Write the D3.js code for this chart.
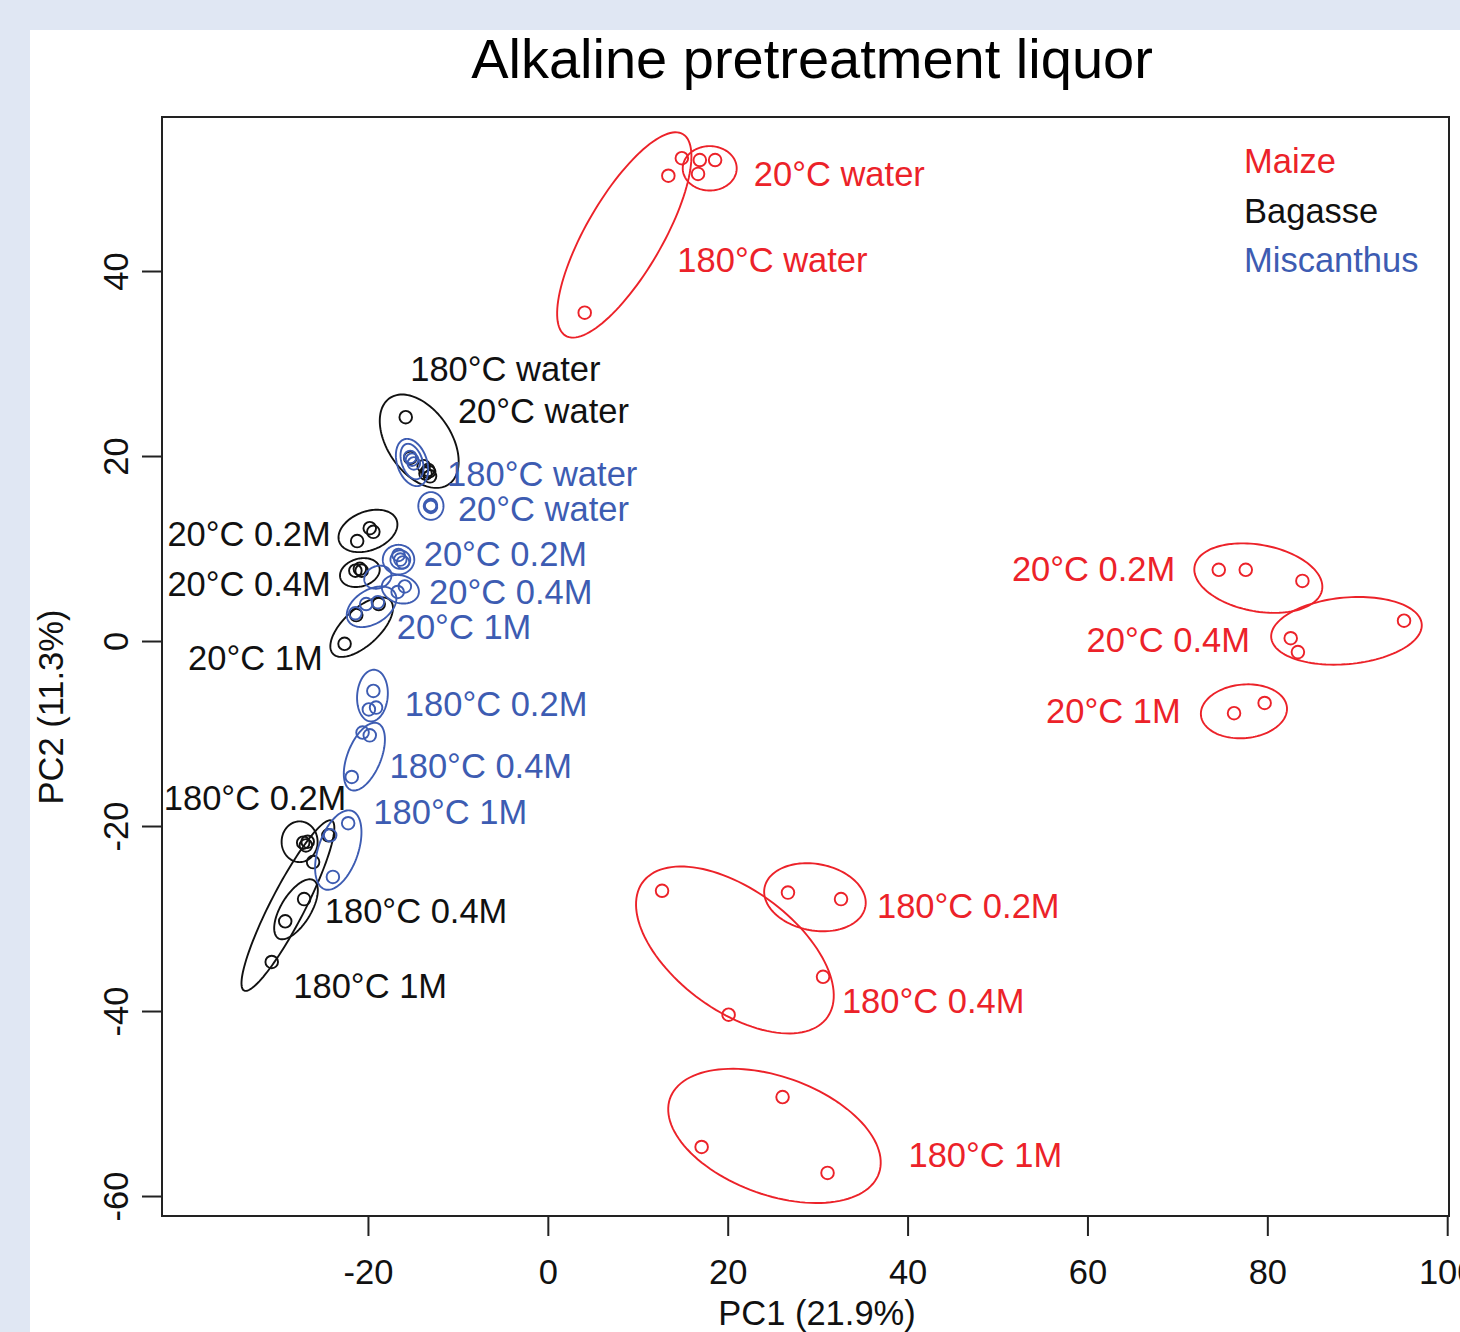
<!DOCTYPE html>
<html>
<head>
<meta charset="utf-8">
<script src="https://cdn.jsdelivr.net/npm/d3@7"></script>
<style>
  html, body { margin: 0; padding: 0; background: #e0e7f3; }
  svg { display: block; }
  text { font-family: "Liberation Sans", Arial, Helvetica, sans-serif; }
</style>
</head>
<body>
<svg id="chart" width="1460" height="1332"></svg>
<script>
// ---- data -------------------------------------------------------------
const species = ["Maize", "Bagasse", "Miscanthus"];
const xTicks = [-20, 0, 20, 40, 60, 80, 100];
const yTicks = [-60, -40, -20, 0, 20, 40];
const chartTitle = "Alkaline pretreatment liquor";
const xTitle = "PC1 (21.9%)";
const yTitle = "PC2 (11.3%)";

// PCA scores: [treatment, PC1, PC2]
const maizeScores = [
  ["20°C water", 16.9, 52.0], ["20°C water", 18.6, 52.0], ["20°C water", 16.7, 50.5],
  ["180°C water", 14.9, 52.2], ["180°C water", 13.4, 50.3], ["180°C water", 4.1, 35.5],
  ["20°C 0.2M", 74.6, 7.7], ["20°C 0.2M", 77.6, 7.7], ["20°C 0.2M", 83.9, 6.5],
  ["20°C 0.4M", 82.6, 0.3], ["20°C 0.4M", 83.4, -1.2], ["20°C 0.4M", 95.2, 2.2],
  ["20°C 1M", 76.3, -7.8], ["20°C 1M", 79.7, -6.7],
  ["180°C 0.2M", 26.7, -27.2], ["180°C 0.2M", 32.6, -27.9],
  ["180°C 0.4M", 12.7, -27.0], ["180°C 0.4M", 30.6, -36.3], ["180°C 0.4M", 20.1, -40.4],
  ["180°C 1M", 26.1, -49.3], ["180°C 1M", 17.1, -54.7], ["180°C 1M", 31.1, -57.5]
];
const bagasseScores = [
  ["180°C water", -15.8, 24.2], ["180°C water", -15.3, 19.8], ["180°C water", -13.8, 18.9],
  ["20°C water", -13.3, 18.5], ["20°C water", -13.1, 17.8], ["20°C water", -13.6, 18.1],
  ["20°C 0.2M", -21.2, 10.8], ["20°C 0.2M", -19.8, 12.2], ["20°C 0.2M", -19.4, 11.8],
  ["20°C 0.4M", -21.4, 7.6], ["20°C 0.4M", -20.9, 7.8], ["20°C 0.4M", -20.7, 7.6],
  ["20°C 1M", -22.6, -0.3], ["20°C 1M", -21.3, 2.8], ["20°C 1M", -18.8, 4.0],
  ["180°C 0.2M", -27.2, -21.8], ["180°C 0.2M", -26.9, -22.1], ["180°C 0.2M", -26.7, -21.7],
  ["180°C 0.4M", -27.1, -27.9], ["180°C 0.4M", -29.2, -30.3],
  ["180°C 1M", -30.7, -34.7], ["180°C 1M", -26.1, -23.9], ["180°C 1M", -24.4, -21.0]
];
const miscanthusScores = [
  ["180°C water", -15.3, 19.9], ["180°C water", -15.1, 19.6], ["180°C water", -14.9, 19.2],
  ["20°C water", -13.0, 14.7], ["20°C water", -13.0, 14.5], ["20°C water", -13.1, 14.6],
  ["20°C 0.2M", -16.6, 9.3], ["20°C 0.2M", -16.1, 8.5], ["20°C 0.2M", -16.4, 8.8],
  ["20°C 0.4M", -16.7, 5.3], ["20°C 0.4M", -15.9, 5.9],
  ["20°C 1M", -20.2, 4.0], ["20°C 1M", -18.9, 4.2], ["20°C 1M", -21.4, 3.0],
  ["180°C 0.2M", -19.4, -5.4], ["180°C 0.2M", -19.9, -7.4], ["180°C 0.2M", -19.1, -7.2],
  ["180°C 0.4M", -20.6, -9.9], ["180°C 0.4M", -19.8, -10.2], ["180°C 0.4M", -21.8, -14.7],
  ["180°C 1M", -22.2, -19.7], ["180°C 1M", -24.2, -21.0], ["180°C 1M", -23.9, -25.5]
];

// Confidence ellipses: [treatment, centre PC1, centre PC2, semi-axis a, semi-axis b, rotation (deg)]
const maizeEllipses = [
  ["20°C water", 18.0, 51.1, 3.0, 2.4, 0],
  ["180°C water", 8.5, 43.9, 12.7, 4.2, 59],
  ["20°C 0.2M", 79.0, 6.8, 7.2, 3.6, -10],
  ["20°C 0.4M", 88.8, 1.1, 8.4, 3.6, 5],
  ["20°C 1M", 77.4, -7.6, 4.8, 2.9, 5],
  ["180°C 0.2M", 29.7, -27.7, 5.7, 3.6, -10],
  ["180°C 0.4M", 20.8, -33.4, 12.6, 6.6, -35],
  ["180°C 1M", 25.2, -53.5, 12.3, 6.4, -19]
];
const bagasseEllipses = [
  ["180°C water", -14.3, 21.6, 5.7, 3.5, -54],
  ["20°C water", -13.3, 18.3, 0.8, 0.65, 0],
  ["20°C 0.2M", -20.0, 11.9, 3.4, 2.1, 20],
  ["20°C 0.4M", -20.9, 7.4, 2.25, 1.5, 15],
  ["20°C 1M", -20.7, 1.5, 4.3, 2.0, 41.5],
  ["180°C 0.2M", -27.6, -21.7, 2.2, 2.0, 90],
  ["180°C 0.4M", -28.0, -29.0, 3.7, 1.65, 57.5],
  ["180°C 1M", -28.9, -28.6, 10.4, 1.9, 62]
];
const miscanthusEllipses = [
  ["180°C water", -15.1, 19.3, 2.65, 1.65, -70],
  ["180°C water", -15.1, 19.4, 2.0, 1.15, -70],
  ["20°C water", -13.0, 14.6, 1.5, 1.4, 90],
  ["20°C 0.2M", -16.6, 8.8, 1.75, 1.6, 0],
  ["20°C 0.2M", -16.4, 8.8, 1.1, 1.0, 0],
  ["20°C 0.4M", -16.4, 5.6, 2.1, 1.5, -15],
  ["20°C 0.4M", -18.9, 6.9, 1.55, 1.2, 20],
  ["20°C 1M", -19.6, 3.7, 3.0, 1.85, 30],
  ["180°C 0.2M", -19.5, -5.9, 2.8, 1.7, 85],
  ["180°C 0.4M", -20.4, -12.5, 3.9, 1.85, 67],
  ["180°C 1M", -23.3, -22.6, 4.5, 2.2, 70]
];

// Group labels: [text, PC1 of left edge, PC2 of middle]
const maizeLabels = [
  ["20°C water", 22.9, 50.5], ["180°C water", 14.4, 41.2],
  ["20°C 0.2M", 51.6, 7.8], ["20°C 0.4M", 59.9, 0.2], ["20°C 1M", 55.4, -7.5],
  ["180°C 0.2M", 36.6, -28.6], ["180°C 0.4M", 32.7, -38.9], ["180°C 1M", 40.1, -55.5]
];
const bagasseLabels = [
  ["180°C water", -15.3, 29.4], ["20°C water", -10.0, 24.9],
  ["20°C 0.2M", -42.3, 11.6], ["20°C 0.4M", -42.3, 6.2], ["20°C 1M", -40.0, -1.8],
  ["180°C 0.2M", -42.7, -16.9], ["180°C 0.4M", -24.8, -29.1], ["180°C 1M", -28.3, -37.3]
];
const miscanthusLabels = [
  ["180°C water", -11.2, 18.1], ["20°C water", -10.0, 14.3],
  ["20°C 0.2M", -13.8, 9.5], ["20°C 0.4M", -13.2, 5.3], ["20°C 1M", -16.8, 1.6],
  ["180°C 0.2M", -15.9, -6.8], ["180°C 0.4M", -17.6, -13.5], ["180°C 1M", -19.4, -18.4]
];

// ---- styling ----------------------------------------------------------
const colour = d3.scaleOrdinal().domain(species).range(["#ec2229", "#111111", "#3d5cb2"]);
const fontSize = 34.5;

const svg = d3.select("#chart");
const W = 1460, H = 1332;
const box = { left: 162, top: 117, right: 1449, bottom: 1216 };

svg.append("rect").attr("width", W).attr("height", H).attr("fill", "#e0e7f3");
svg.append("rect").attr("x", 30).attr("y", 30).attr("width", W - 30).attr("height", H - 30).attr("fill", "#ffffff");

const x = d3.scaleLinear().domain([-42.9, 100.2]).range([box.left, box.right]);
const y = d3.scaleLinear().domain([-62.16, 56.65]).range([box.bottom, box.top]);

// plain hyphen for negative tick values
const tickText = d => String(d);

// ---- axes -------------------------------------------------------------
const xAxis = svg.append("g")
  .attr("transform", `translate(0,${box.bottom})`)
  .call(d3.axisBottom(x).tickValues(xTicks).tickSize(20).tickPadding(24).tickFormat(tickText));
xAxis.select(".domain").remove();
xAxis.selectAll(".tick line").attr("stroke", "#222").attr("stroke-width", 2);
xAxis.selectAll(".tick text").attr("font-size", fontSize).attr("fill", "#111")
  .attr("font-family", "Liberation Sans, Arial, sans-serif");

const yAxis = svg.append("g")
  .attr("transform", `translate(${box.left},0)`)
  .call(d3.axisLeft(y).tickValues(yTicks).tickSize(20).tickFormat(tickText));
yAxis.select(".domain").remove();
yAxis.selectAll(".tick line").attr("stroke", "#222").attr("stroke-width", 2);
yAxis.selectAll(".tick text")
  .attr("font-size", fontSize).attr("fill", "#111")
  .attr("font-family", "Liberation Sans, Arial, sans-serif")
  .attr("x", null).attr("dy", null)
  .attr("text-anchor", "middle")
  .attr("transform", "translate(-34,0) rotate(-90)");

svg.append("rect")
  .attr("x", box.left).attr("y", box.top)
  .attr("width", box.right - box.left).attr("height", box.bottom - box.top)
  .attr("fill", "none").attr("stroke", "#222").attr("stroke-width", 2);

// ---- titles -----------------------------------------------------------
svg.append("text").attr("x", 812).attr("y", 78)
  .attr("text-anchor", "middle").attr("font-size", 56).attr("fill", "#000")
  .text(chartTitle);
svg.append("text").attr("x", 817).attr("y", 1325)
  .attr("text-anchor", "middle").attr("font-size", fontSize).attr("fill", "#111")
  .text(xTitle);
svg.append("text").attr("transform", "translate(63,707) rotate(-90)")
  .attr("text-anchor", "middle").attr("font-size", fontSize).attr("fill", "#111")
  .text(yTitle);

// ---- marks ------------------------------------------------------------
const layers = [
  { name: "Maize", scores: maizeScores, ellipses: maizeEllipses, labels: maizeLabels },
  { name: "Bagasse", scores: bagasseScores, ellipses: bagasseEllipses, labels: bagasseLabels },
  { name: "Miscanthus", scores: miscanthusScores, ellipses: miscanthusEllipses, labels: miscanthusLabels }
];

function ellipseOutline(e) {
  const [, cx, cy, a, b, deg] = e;
  const th = deg * Math.PI / 180;
  return d3.range(120).map(i => {
    const t = i / 120 * 2 * Math.PI;
    const u = a * Math.cos(t), v = b * Math.sin(t);
    return [cx + u * Math.cos(th) - v * Math.sin(th), cy + u * Math.sin(th) + v * Math.cos(th)];
  });
}
const outline = d3.line().x(d => x(d[0])).y(d => y(d[1])).curve(d3.curveLinearClosed);

const plot = svg.append("g");
layers.forEach(layer => {
  const c = colour(layer.name);
  const g = plot.append("g").attr("class", layer.name);
  g.selectAll("path.ellipse").data(layer.ellipses).join("path")
    .attr("class", "ellipse")
    .attr("d", d => outline(ellipseOutline(d)))
    .attr("fill", "none").attr("stroke", c).attr("stroke-width", 1.9);
  g.selectAll("circle").data(layer.scores).join("circle")
    .attr("cx", d => x(d[1])).attr("cy", d => y(d[2])).attr("r", 6.3)
    .attr("fill", "none").attr("stroke", c).attr("stroke-width", 1.9);
  g.selectAll("text").data(layer.labels).join("text")
    .attr("x", d => x(d[1])).attr("y", d => y(d[2])).attr("dy", "0.36em")
    .attr("font-size", fontSize).attr("fill", c)
    .text(d => d[0]);
});

// ---- legend -----------------------------------------------------------
svg.append("g").selectAll("text").data(species).join("text")
  .attr("x", box.right - 205)
  .attr("y", (d, i) => 161 + i * 49.5).attr("dy", "0.36em")
  .attr("font-size", fontSize)
  .attr("fill", d => colour(d))
  .text(d => d);
</script>
</body>
</html>
